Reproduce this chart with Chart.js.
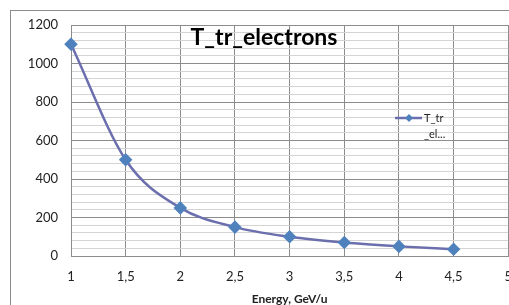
<!DOCTYPE html>
<html><head><meta charset="utf-8">
<script src="https://cdn.jsdelivr.net/npm/chart.js@4/dist/chart.umd.min.js"></script>
<style>
html,body{margin:0;padding:0;background:#fff;overflow:hidden;}
#wrap{position:absolute;left:0;top:0;width:525px;height:305px;}
</style></head><body>
<div id="wrap"><canvas id="c" width="525" height="305"></canvas></div>
<script>
const energy = [1, 1.5, 2, 2.5, 3, 3.5, 4, 4.5];
const tTr = [1100, 500, 250, 150, 100, 70, 50, 35];
const seriesLabel = 'T_tr_electrons';
const chartTitle = 'T_tr_electrons';
const xTitle = 'Energy, GeV/u';
const legendLines = ['T_tr', '_el...'];
const FONT = 'Lato, "Open Sans", sans-serif';

const extras = {
  id: 'extras',
  beforeDraw(chart) {
    const ctx = chart.ctx;
    ctx.save();
    ctx.fillStyle = '#fff';
    ctx.fillRect(0, 0, chart.width, chart.height);
    ctx.strokeStyle = '#8c8c8c';
    ctx.lineWidth = 1;
    ctx.strokeRect(10.5, 10.5, 700, 500);
    ctx.restore();
  },
  afterDraw(chart) {
    const ctx = chart.ctx;
    ctx.save();
    ctx.fillStyle = '#000';
    ctx.font = 'bold 23px ' + FONT;
    ctx.textAlign = 'center';
    ctx.textBaseline = 'middle';
    ctx.fillText(chartTitle, 264, 38);
    // legend
    const ly = 118;
    ctx.strokeStyle = '#6b6fae';
    ctx.lineWidth = 2.5;
    ctx.beginPath(); ctx.moveTo(395, ly); ctx.lineTo(422, ly); ctx.stroke();
    ctx.fillStyle = '#4f81bd';
    ctx.beginPath();
    ctx.moveTo(409, ly - 4); ctx.lineTo(413, ly); ctx.lineTo(409, ly + 4); ctx.lineTo(405, ly);
    ctx.closePath(); ctx.fill();
    ctx.fillStyle = '#222';
    ctx.font = '11px ' + FONT;
    ctx.textAlign = 'left';
    ctx.fillText(legendLines[0], 424, ly);
    ctx.fillText(legendLines[1], 424, ly + 16);
    ctx.restore();
  }
};

new Chart(document.getElementById('c'), {
  type: 'line',
  data: {
    datasets: [{
      label: seriesLabel,
      data: energy.map((x, i) => ({x: x, y: tTr[i]})),
      borderColor: '#6b6fae',
      borderWidth: 2.5,
      backgroundColor: '#4f81bd',
      pointBackgroundColor: '#4f81bd',
      pointBorderColor: '#4f81bd',
      pointStyle: 'rectRot',
      pointRadius: 5,
      cubicInterpolationMode: 'monotone',
      fill: false,
      clip: false
    }]
  },
  plugins: [extras],
  options: {
    responsive: false,
    animation: false,
    devicePixelRatio: 1,
    layout: {padding: {left: 0, right: 7, top: 25, bottom: 0}},
    plugins: {legend: {display: false}, title: {display: false}, tooltip: {enabled: false}},
    scales: {
      x: {
        type: 'linear', min: 1, max: 5,
        afterBuildTicks(axis) {
          const t = [];
          for (let v = 1; v <= 5.0001; v += 0.5) t.push({value: Math.round(v * 10) / 10});
          axis.ticks = t;
        },
        afterFit(axis) { axis.height = 49; },
        grid: {color: '#8c8c8c', lineWidth: 1, drawTicks: false},
        border: {color: '#8c8c8c', width: 1},
        ticks: {
          padding: 13, color: '#222', font: {family: FONT, size: 13}, maxRotation: 0, autoSkip: false,
          callback: v => String(v).replace('.', ',')
        },
        title: {display: true, text: xTitle, color: '#222', font: {family: FONT, size: 12, weight: 'bold'}, padding: {top: 0, bottom: -1}}
      },
      y: {
        type: 'linear', min: 0, max: 1200,
        afterBuildTicks(axis) {
          const t = [];
          for (let v = 0; v <= 1200; v += 40) t.push({value: v});
          axis.ticks = t;
        },
        afterFit(axis) { axis.width = 71; },
        grid: {
          color: c => (c.tick && c.tick.value % 200 === 0) ? '#8c8c8c' : '#d4d4d4',
          lineWidth: 1, drawTicks: false
        },
        border: {color: '#8c8c8c', width: 1},
        ticks: {
          padding: 13, color: '#222', font: {family: FONT, size: 13}, autoSkip: false,
          callback: v => (v % 200 === 0 ? String(v) : '')
        }
      }
    }
  }
});
</script>
</body></html>
